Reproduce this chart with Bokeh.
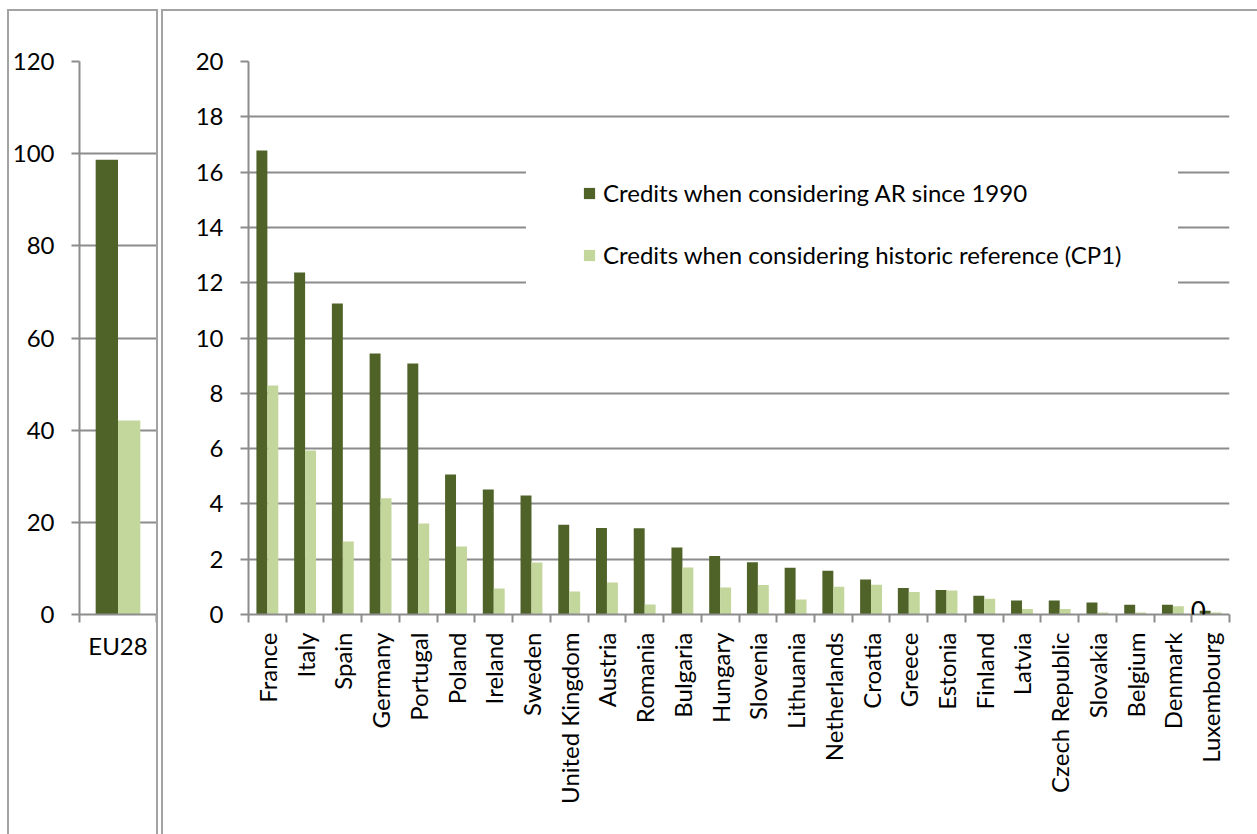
import math
from bokeh.plotting import figure
from bokeh.models import (ColumnDataSource, Range1d, LinearAxis, FixedTicker,
                          Legend, LegendItem, Spacer, Label)
from bokeh.layouts import row, column
from bokeh.transform import dodge
from bokeh.embed import file_html
from bokeh.resources import INLINE

# ---------------- data ----------------
eu_category = ["EU28"]
eu_ar_since_1990 = [98.7]
eu_historic_cp1 = [42.1]

countries = ["France", "Italy", "Spain", "Germany", "Portugal", "Poland", "Ireland", "Sweden",
             "United Kingdom", "Austria", "Romania", "Bulgaria", "Hungary", "Slovenia",
             "Lithuania", "Netherlands", "Croatia", "Greece", "Estonia", "Finland", "Latvia",
             "Czech Republic", "Slovakia", "Belgium", "Denmark", "Luxembourg"]
ar_since_1990 = [16.78, 12.37, 11.25, 9.44, 9.08, 5.06, 4.52, 4.30, 3.25, 3.13, 3.12, 2.42, 2.12,
                 1.89, 1.69, 1.58, 1.27, 0.96, 0.89, 0.68, 0.51, 0.51, 0.43, 0.35, 0.35, 0.14]
historic_cp1 = [8.28, 5.93, 2.64, 4.20, 3.29, 2.46, 0.94, 1.88, 0.83, 1.16, 0.36, 1.70, 0.98,
                1.07, 0.54, 1.00, 1.08, 0.81, 0.87, 0.57, 0.20, 0.20, 0.07, 0.07, 0.30, 0.07]

eu_y_ticks = [0, 20, 40, 60, 80, 100, 120]
country_y_ticks = [0, 2, 4, 6, 8, 10, 12, 14, 16, 18, 20]

series_names = ["Credits when considering AR since 1990",
                "Credits when considering historic reference (CP1)"]
zero_label_country = "Luxembourg"
zero_label_text = "0"

# ---------------- style ----------------
DARK = "#4F6228"
LIGHT = "#C3D69B"
GRID = "#8c8c8c"
FRAME = "#a3a3a3"
FONT = "Lato"
FS = "24px"
BAR_W = 0.29
TOTAL_H = 823


def base_fig(factors, ymax, width, mbl, mbr):
    p = figure(width=width, height=TOTAL_H,
               x_range=Range1d(-0.5, len(factors) - 0.5), y_range=Range1d(0, ymax),
               x_axis_location=None, toolbar_location=None, output_backend="svg",
               min_border_left=mbl, min_border_right=mbr, min_border_top=50,
               min_border_bottom=220)
    p.outline_line_color = None
    p.background_fill_color = "white"
    p.border_fill_color = "white"
    for g in p.xgrid:
        g.grid_line_color = None
    for g in p.ygrid:
        g.grid_line_color = GRID
        g.grid_line_width = 2
    ya = p.yaxis[0]
    ya.axis_line_color = GRID
    ya.axis_line_width = 2
    ya.major_tick_line_color = GRID
    ya.major_tick_line_width = 2
    ya.major_tick_out = 8
    ya.major_tick_in = 0
    ya.minor_tick_line_color = None
    ya.major_label_text_font = FONT
    ya.major_label_text_font_size = FS
    ya.major_label_text_color = "#000000"
    ya.major_label_standoff = 17
    return p


def cat_axis(factors, orientation, standoff):
    centers = list(range(len(factors)))
    bounds = [i - 0.5 for i in range(len(factors) + 1)]
    ax = LinearAxis(ticker=FixedTicker(ticks=centers, minor_ticks=bounds),
                    major_label_overrides={i: f for i, f in enumerate(factors)},
                    major_label_orientation=orientation)
    ax.axis_line_color = GRID
    ax.axis_line_width = 2
    ax.major_tick_line_color = None
    ax.major_tick_out = 0
    ax.major_tick_in = 0
    ax.minor_tick_line_color = GRID
    ax.minor_tick_line_width = 2
    ax.minor_tick_out = 8
    ax.minor_tick_in = 0
    ax.major_label_text_font = FONT
    ax.major_label_text_font_size = FS
    ax.major_label_text_color = "#000000"
    ax.major_label_standoff = standoff
    return ax


# ---------------- left panel: EU28 ----------------
p1 = base_fig(eu_category, eu_y_ticks[-1], 147, 68, 0)
p1.yaxis[0].ticker = FixedTicker(ticks=eu_y_ticks)
src1 = ColumnDataSource(dict(pos=list(range(len(eu_category))), cat=eu_category,
                             ar=eu_ar_since_1990, cp1=eu_historic_cp1))
p1.vbar(x=dodge("pos", -BAR_W / 2), top="ar", width=BAR_W, source=src1,
        fill_color=DARK, line_color=None)
p1.vbar(x=dodge("pos", BAR_W / 2), top="cp1", width=BAR_W, source=src1,
        fill_color=LIGHT, line_color=None)
p1.add_layout(cat_axis(eu_category, "horizontal", 8), "below")

# ---------------- right panel: member states ----------------
p2 = base_fig(countries, country_y_ticks[-1], 1094, 85, 28)
p2.yaxis[0].ticker = FixedTicker(ticks=country_y_ticks)
src2 = ColumnDataSource(dict(pos=list(range(len(countries))), country=countries,
                             ar=ar_since_1990, cp1=historic_cp1))
r1 = p2.vbar(x=dodge("pos", -BAR_W / 2), top="ar", width=BAR_W,
             source=src2, fill_color=DARK, line_color=None)
r2 = p2.vbar(x=dodge("pos", BAR_W / 2), top="cp1", width=BAR_W,
             source=src2, fill_color=LIGHT, line_color=None)
p2.add_layout(cat_axis(countries, math.pi / 2, 10), "below")

zi = countries.index(zero_label_country)
p2.add_layout(Label(x=zi - 0.33, y=ar_since_1990[zi], text=zero_label_text,
                    text_font=FONT, text_font_size="26px", text_color="#000000",
                    text_align="center", text_baseline="middle"))

legend = Legend(items=[LegendItem(label=series_names[0], renderers=[r1]),
                       LegendItem(label=series_names[1], renderers=[r2])],
                location=(278, 289), glyph_width=14, glyph_height=14, label_height=24,
                label_standoff=7, spacing=33, padding=55, margin=0,
                label_text_font=FONT, label_text_font_size=FS, label_text_color="#000000",
                background_fill_color="white", background_fill_alpha=1.0,
                border_line_color="white")
p2.add_layout(legend)


# ---------------- frames ----------------
def vline(h):
    return Spacer(width=2, height=h, styles={"background-color": FRAME})


def hline(w):
    return Spacer(width=w, height=2, styles={"background-color": FRAME})


left_block = column(hline(151), row(vline(TOTAL_H), p1, vline(TOTAL_H)))
right_block = column(hline(1096), row(vline(TOTAL_H), p2))
layout = column(Spacer(width=1257, height=9),
                row(Spacer(width=7, height=TOTAL_H + 2), left_block,
                    Spacer(width=3, height=TOTAL_H + 2), right_block))

open("out.html", "w").write(file_html(layout, INLINE))
